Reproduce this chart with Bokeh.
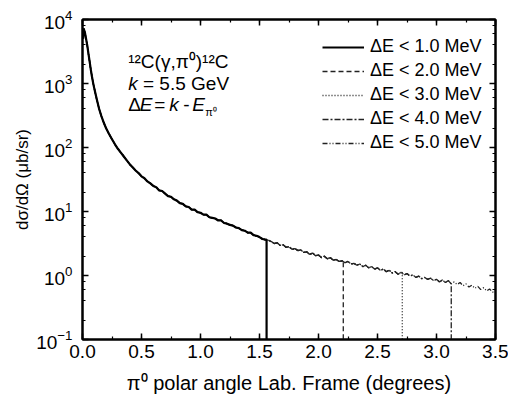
import numpy as np
from bokeh.plotting import figure
from bokeh.models import (LinearAxis, LogAxis, LogTicker, SingleIntervalTicker,
                          PrintfTickFormatter, CustomJSTickFormatter, Legend, LegendItem, Label)
from bokeh.embed import file_html
from bokeh.resources import INLINE

# ---- data ----
# steep forward region (degrees)
theta_fwd = [0.005, 0.01, 0.02, 0.03, 0.04, 0.05, 0.06, 0.07, 0.08, 0.09, 0.10,
             0.12, 0.14, 0.16, 0.18, 0.20, 0.225, 0.25, 0.275]
log_xs_fwd = [3.70, 3.86, 3.80, 3.70, 3.60, 3.47, 3.35, 3.22, 3.11, 3.01, 2.92,
              2.76, 2.61, 2.49, 2.39, 2.30, 2.21, 2.13, 2.05]
# 0.025-degree bins from 0.300 to 3.500
log_xs_bins = [1.98, 1.92, 1.86, 1.80, 1.74, 1.69, 1.64, 1.60, 1.55, 1.52,
               1.47, 1.44, 1.40, 1.38, 1.33, 1.32, 1.28, 1.24, 1.23, 1.19,
               1.17, 1.13, 1.12, 1.08, 1.07, 1.03, 1.03, 0.99, 0.98, 0.95,
               0.95, 0.91, 0.90, 0.89, 0.86, 0.86, 0.82, 0.81, 0.79, 0.78,
               0.75, 0.74, 0.71, 0.70, 0.67, 0.67, 0.63, 0.62, 0.60, 0.57,
               0.56, 0.55, 0.53, 0.50, 0.51, 0.47, 0.48, 0.44, 0.45, 0.41,
               0.42, 0.39, 0.40, 0.36, 0.37, 0.33, 0.35, 0.31, 0.32, 0.28,
               0.30, 0.26, 0.28, 0.24, 0.25, 0.22, 0.23, 0.20, 0.22, 0.18,
               0.19, 0.16, 0.18, 0.14, 0.16, 0.12, 0.14, 0.10, 0.12, 0.08,
               0.10, 0.06, 0.08, 0.04, 0.06, 0.02, 0.05, 0.01, 0.03, -0.01,
               0.01, -0.03, -0.01, -0.05, -0.03, -0.06, -0.04, -0.08, -0.06, -0.10,
               -0.07, -0.11, -0.08, -0.13, -0.10, -0.14, -0.11, -0.16, -0.13, -0.18,
               -0.15, -0.20, -0.17, -0.22, -0.19, -0.24, -0.21, -0.26, -0.25]
theta_bins = [round(0.3 + 0.025 * i, 3) for i in range(len(log_xs_bins))]

series_labels = ["ΔE < 1.0 MeV", "ΔE < 2.0 MeV", "ΔE < 3.0 MeV", "ΔE < 4.0 MeV", "ΔE < 5.0 MeV"]
cutoff_deg = [1.56, 2.21, 2.71, 3.125, 3.6]   # angle beyond which the cross section is zero
zero_level = 1e-2                               # "zero" on the log axis (below frame)

theta = np.array(theta_fwd + theta_bins)
xsec = 10 ** np.array(log_xs_fwd + log_xs_bins)

p = figure(width=508, height=402, y_axis_type="log",
           x_range=(0, 3.5), y_range=(0.1, 1e4),
           output_backend="svg", toolbar_location=None,
           min_border_left=82, min_border_right=13, min_border_top=19, min_border_bottom=63)
p.xgrid.visible = False
p.ygrid.visible = False
p.outline_line_color = "black"
p.outline_line_width = 2
p.background_fill_color = "white"
p.border_fill_color = "white"

FONT = "Liberation Sans"

styles = [dict(line_color="black", line_width=2.2, line_dash="solid"),
          dict(line_color="#222222", line_width=1.3, line_dash="5 3"),
          dict(line_color="#222222", line_width=1.3, line_dash="1 2"),
          dict(line_color="#222222", line_width=1.3, line_dash="6 2 2 2"),
          dict(line_color="#222222", line_width=1.3, line_dash="5 2 1 2 1 2")]

renderers = []
for lab_, cut, st in zip(series_labels, cutoff_deg, styles):
    m = theta <= cut
    xs = list(theta[m])
    ys = list(xsec[m])
    if cut < 3.5:
        xs += [cut, cut]
        ys += [ys[-1], zero_level]
    renderers.append(p.line(xs, ys, **st))

# draw order: keep solid on top
for r in renderers[::-1]:
    p.renderers.remove(r)
    p.renderers.append(r)

# axes
p.xaxis.ticker = SingleIntervalTicker(interval=0.5, num_minor_ticks=2)
p.xaxis.formatter = PrintfTickFormatter(format="%.1f")
p.yaxis.ticker = LogTicker(desired_num_ticks=6)

def style_axis(ax, labels=True, size="19px"):
    ax.axis_line_width = 2
    ax.axis_line_color = "black"
    ax.major_tick_in = 6
    ax.major_tick_out = 0
    ax.minor_tick_in = 3
    ax.minor_tick_out = 0
    ax.major_tick_line_width = 1.5
    ax.minor_tick_line_width = 1.2
    ax.major_tick_line_color = "black"
    ax.minor_tick_line_color = "black"
    if labels:
        ax.major_label_text_font = FONT
        ax.major_label_text_font_size = size
        ax.major_label_text_color = "black"
        ax.axis_label_text_font = FONT
        ax.axis_label_text_font_style = "normal"
        ax.axis_label_text_color = "black"
    else:
        ax.formatter = CustomJSTickFormatter(code="return ''")
        ax.major_label_text_font_size = "0px"
        ax.major_label_standoff = 0

for ax in p.xaxis + p.yaxis:
    style_axis(ax)
p.xaxis.axis_label_text_font_size = "20px"
p.yaxis.axis_label_text_font_size = "17px"
p.xaxis.major_label_standoff = 5
p.xaxis.axis_label_standoff = 11
p.yaxis.major_label_standoff = 10
p.yaxis.axis_label_standoff = 1
p.xaxis.axis_label = "π⁰ polar angle Lab. Frame (degrees)"
p.yaxis.axis_label = "dσ/dΩ (μb/sr)"

top = LinearAxis(ticker=SingleIntervalTicker(interval=0.5, num_minor_ticks=2))
style_axis(top, labels=False)
p.add_layout(top, "above")
right = LogAxis(ticker=LogTicker(desired_num_ticks=6))
style_axis(right, labels=False)
p.add_layout(right, "right")

# legend (location = bottom-left corner, px from the frame's lower-left)
legend = Legend(items=[LegendItem(label=l, renderers=[r]) for l, r in zip(series_labels, renderers)],
                location=(240, 186), orientation="vertical",
                border_line_color=None, background_fill_alpha=0,
                padding=0, margin=0, spacing=3,
                glyph_width=42, glyph_height=20, label_height=20, label_standoff=6,
                label_text_font=FONT, label_text_font_size="18px", label_text_color="black")
p.add_layout(legend, "center")

# annotation block (screen units relative to plot frame)
def lab(text, x, y, size="19px", style="normal"):
    p.add_layout(Label(x=x, y=y, x_units="screen", y_units="screen", text=text,
                       text_font=FONT, text_font_size=size, text_font_style=style,
                       text_baseline="middle", text_color="black"))

x0 = 45.7
lab("¹²C(γ,π⁰)¹²C", x0, 278)
lab("k", x0, 256, style="italic")
lab("= 5.5 GeV", x0 + 14.8, 256)
lab("Δ", x0, 235)
lab("E", x0 + 11.5, 235, style="italic")
lab("=", x0 + 26, 235)
lab("k", x0 + 41, 235, style="italic")
lab("-", x0 + 55, 235)
lab("E", x0 + 64, 235, style="italic")
lab("π⁰", x0 + 77, 228, size="11px")

open("out.html", "w").write(file_html(p, INLINE))
